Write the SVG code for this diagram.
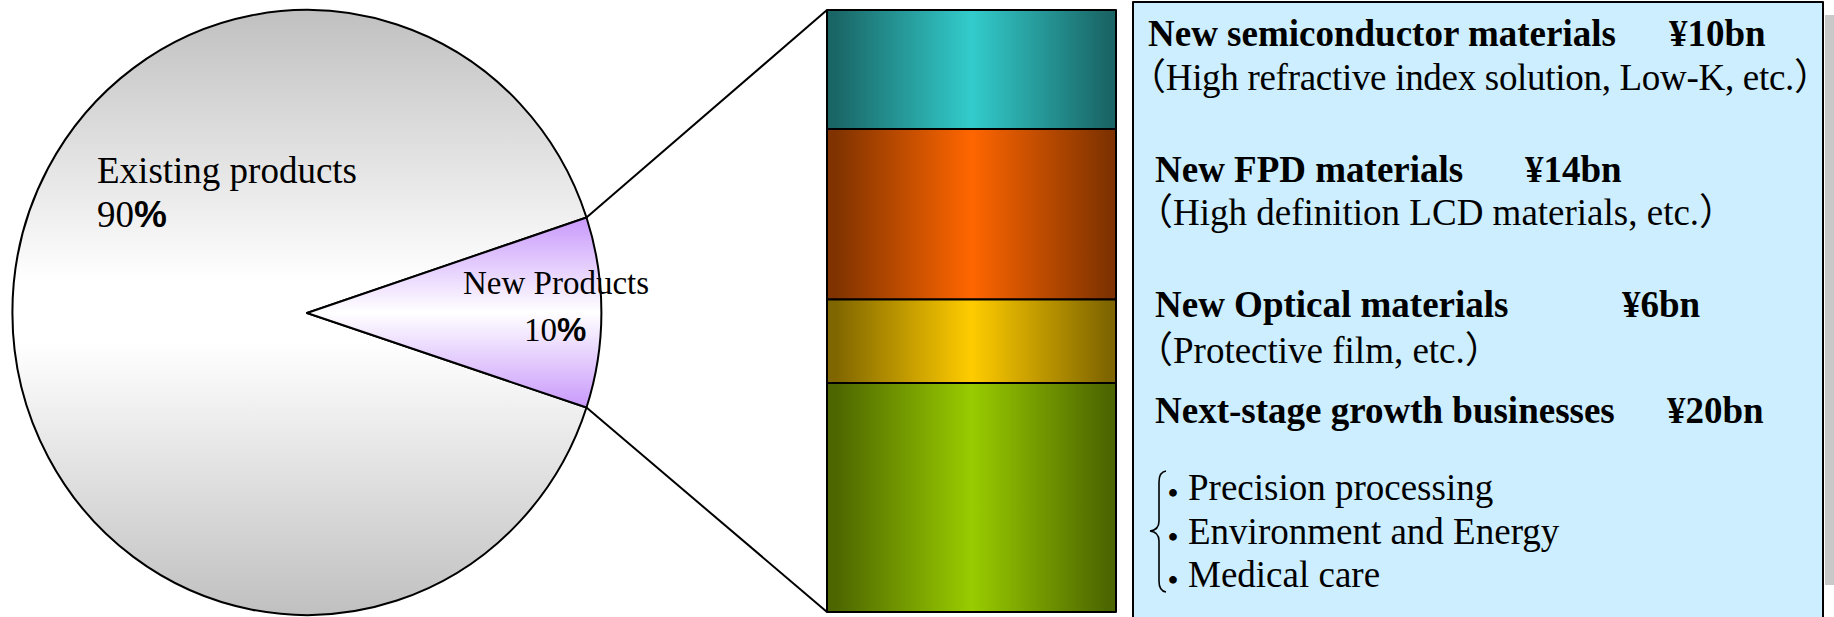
<svg xmlns="http://www.w3.org/2000/svg" width="1834" height="617" viewBox="0 0 1834 617">
<defs>
<linearGradient id="gPie" x1="0" y1="0" x2="0" y2="1">
<stop offset="0" stop-color="#c0c0c0"/>
<stop offset="0.45" stop-color="#ffffff"/>
<stop offset="0.55" stop-color="#ffffff"/>
<stop offset="1" stop-color="#c0c0c0"/>
</linearGradient>
<linearGradient id="gWedge" x1="0" y1="0" x2="0" y2="1">
<stop offset="0" stop-color="#c899fb"/>
<stop offset="0.5" stop-color="#ffffff"/>
<stop offset="1" stop-color="#c899fb"/>
</linearGradient>
<linearGradient id="gTeal" x1="0" y1="0" x2="1" y2="0">
<stop offset="0.03" stop-color="#1a6666"/>
<stop offset="0.5" stop-color="#33cccc"/>
<stop offset="0.97" stop-color="#1a6666"/>
</linearGradient>
<linearGradient id="gOrange" x1="0" y1="0" x2="1" y2="0">
<stop offset="0.03" stop-color="#803300"/>
<stop offset="0.5" stop-color="#ff6600"/>
<stop offset="0.97" stop-color="#803300"/>
</linearGradient>
<linearGradient id="gYellow" x1="0" y1="0" x2="1" y2="0">
<stop offset="0.03" stop-color="#806600"/>
<stop offset="0.5" stop-color="#ffcc00"/>
<stop offset="0.97" stop-color="#806600"/>
</linearGradient>
<linearGradient id="gGreen" x1="0" y1="0" x2="1" y2="0">
<stop offset="0.03" stop-color="#4d6600"/>
<stop offset="0.5" stop-color="#99cc00"/>
<stop offset="0.97" stop-color="#4d6600"/>
</linearGradient>
</defs>
<style>
.edge{stroke:#000;stroke-width:2;stroke-linejoin:round}
.serif{font-family:"Liberation Serif","Noto Sans CJK JP",serif;fill:#000}
.b{font-weight:bold}
.pct{font-family:"Liberation Sans","DejaVu Sans",sans-serif;font-weight:bold}
.t37{font-size:37px}
.t33{font-size:33px}
.dot{font-family:"Noto Sans CJK JP",sans-serif;font-size:30px;font-weight:bold}
</style>
<rect width="1834" height="617" fill="#ffffff"/>

<g id="pie">
<path class="edge" fill="url(#gPie)" d="M307,313 L586.5,217.5 A294.5,302.5 0 1 0 586.5,407.5 Z"/>
<path class="edge" fill="url(#gWedge)" d="M307,313 L586.5,217.5 A294.5,302.5 0 0 1 586.5,407.5 Z"/>
<text class="serif t37" x="97" y="183">Existing products</text>
<text class="serif t37" x="97" y="227">90<tspan class="pct">%</tspan></text>
<text class="serif t33" x="463" y="294">New Products</text>
<text class="serif t33" x="524" y="341">10<tspan class="pct">%</tspan></text>
</g>

<g id="connectors">
<line class="edge" x1="586.5" y1="217.5" x2="827" y2="10"/>
<line class="edge" x1="586.5" y1="407.5" x2="827" y2="612"/>
</g>

<g id="bar">
<rect class="edge" x="827" y="10" width="289" height="119" fill="url(#gTeal)"/>
<rect class="edge" x="827" y="129" width="289" height="170.5" fill="url(#gOrange)"/>
<rect class="edge" x="827" y="299.5" width="289" height="83.5" fill="url(#gYellow)"/>
<rect class="edge" x="827" y="383" width="289" height="229" fill="url(#gGreen)"/>
</g>

<g id="legend">
<rect x="1825" y="15" width="9" height="570" fill="#c8c8c8"/>
<rect class="edge" x="1133" y="2" width="690" height="640" fill="#cceeff"/>
<text class="serif b t37" x="1148" y="46">New semiconductor materials</text>
<text class="serif b t37" x="1669" y="46">¥10bn</text>
<text class="serif t37" x="1129" y="90" textLength="702" lengthAdjust="spacing">（High refractive index solution, Low-K, etc.）</text>
<text class="serif b t37" x="1155" y="182">New FPD materials</text>
<text class="serif b t37" x="1525" y="182">¥14bn</text>
<text class="serif t37" x="1136" y="225">（High definition LCD materials, etc.）</text>
<text class="serif b t37" x="1155" y="317">New Optical materials</text>
<text class="serif b t37" x="1622" y="317">¥6bn</text>
<text class="serif t37" x="1136" y="363">（Protective film, etc.）</text>
<text class="serif b t37" x="1155" y="423">Next-stage growth businesses</text>
<text class="serif b t37" x="1667" y="423">¥20bn</text>
<path d="M1166,471 Q1159,472 1159,482 L1159,521 Q1159,530 1150,531 Q1159,532 1159,541 L1159,581 Q1159,591 1166,592" fill="none" stroke="#000" stroke-width="1.6"/>
<text class="serif t37" y="500"><tspan class="dot" x="1158" dy="4">・</tspan><tspan x="1188" dy="-4">Precision processing</tspan></text>
<text class="serif t37" y="544"><tspan class="dot" x="1158" dy="4">・</tspan><tspan x="1188" dy="-4">Environment and Energy</tspan></text>
<text class="serif t37" y="587"><tspan class="dot" x="1158" dy="4">・</tspan><tspan x="1188" dy="-4">Medical care</tspan></text>
</g>
</svg>
